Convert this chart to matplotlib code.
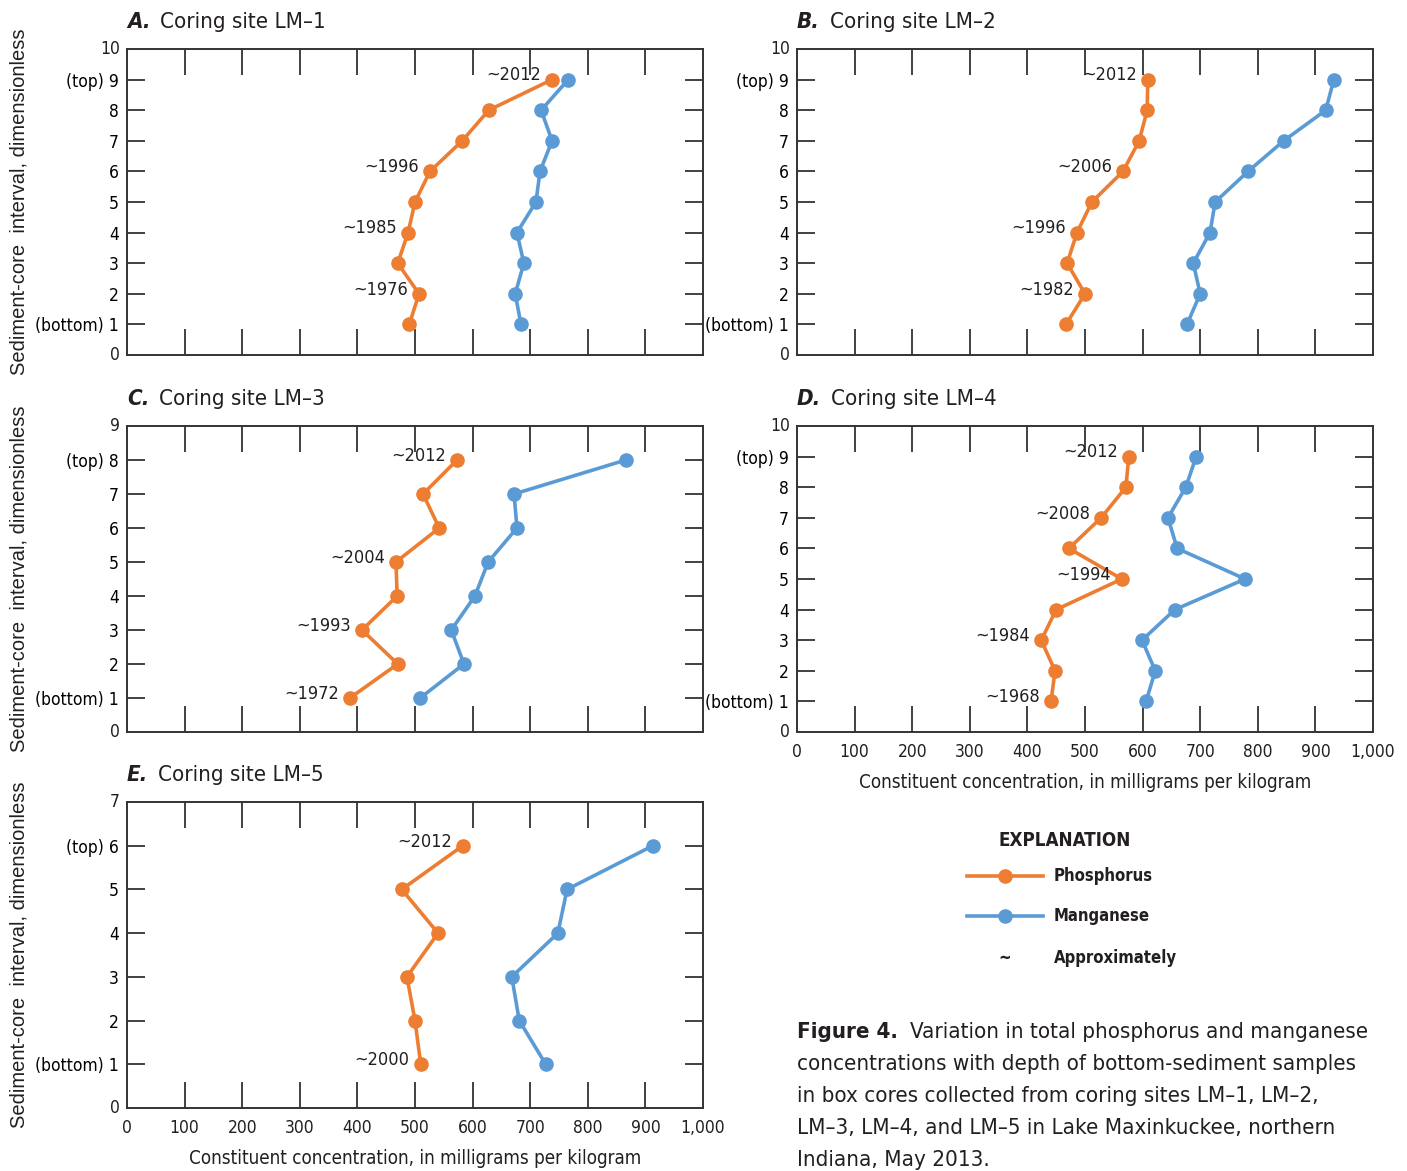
import matplotlib.pyplot as plt

# ==========================================
# DATA
# ==========================================

interval_9 = [1, 2, 3, 4, 5, 6, 7, 8, 9]
interval_8 = [1, 2, 3, 4, 5, 6, 7, 8]
interval_6 = [1, 2, 3, 4, 5, 6]

lm1_phos = [490, 507, 470, 488, 500, 526, 582, 628, 738]
lm1_mang = [684, 674, 689, 677, 710, 717, 738, 719, 766]
lm1_dates = {9: "~2012", 6: "~1996", 4: "~1985", 2: "~1976"}

lm2_phos = [467, 500, 469, 486, 512, 566, 594, 608, 609]
lm2_mang = [677, 700, 688, 717, 726, 783, 845, 918, 932]
lm2_dates = {9: "~2012", 6: "~2006", 4: "~1996", 2: "~1982"}

lm3_phos = [387, 470, 408, 469, 467, 542, 514, 573]
lm3_mang = [509, 585, 563, 604, 627, 677, 672, 866]
lm3_dates = {8: "~2012", 5: "~2004", 3: "~1993", 1: "~1972"}

lm4_phos = [441, 448, 424, 450, 564, 472, 528, 571, 576]
lm4_mang = [606, 622, 599, 656, 778, 660, 644, 675, 693]
lm4_dates = {9: "~2012", 7: "~2008", 5: "~1994", 3: "~1984", 1: "~1968"}

lm5_phos = [510, 500, 486, 540, 477, 583]
lm5_mang = [727, 681, 668, 748, 764, 913]
lm5_dates = {6: "~2012", 1: "~2000"}

x_ticks = [0, 100, 200, 300, 400, 500, 600, 700, 800, 900, 1000]
x_tick_labels = ["0", "100", "200", "300", "400", "500", "600", "700", "800", "900", "1,000"]

# ==========================================
# STYLE
# ==========================================

ORANGE = "#ED7D31"
BLUE = "#5B9BD5"
DARK = "#231F20"

plt.rcParams["font.family"] = ["DejaVu Sans"]
plt.rcParams["font.stretch"] = "condensed"
plt.rcParams["text.color"] = DARK

fig = plt.figure(figsize=(14.07, 11.71), dpi=100)

W, H = 1407, 1171


def make_axes(left, top, right, bottom):
    return fig.add_axes([left / W, 1 - bottom / H, (right - left) / W, (bottom - top) / H])


def draw_panel(ax, letter, site, intervals, phos, mang, dates, ymax, show_x, show_ylabel):

    ax.plot(phos, intervals, color=ORANGE, lw=2.6, marker="o", ms=9.5, zorder=3)
    ax.plot(mang, intervals, color=BLUE, lw=2.6, marker="o", ms=9.5, zorder=3)

    for yv, lab in dates.items():
        xv = phos[intervals.index(yv)]
        ax.annotate(lab, xy=(xv, yv), xytext=(-8, 3), textcoords="offset points",
                    ha="right", va="center", fontsize=13, color=DARK)

    ax.set_xlim(0, 1000)
    ax.set_ylim(0, ymax)

    ax.set_xticks(x_ticks[1:-1])
    ax.set_yticks(list(range(1, ymax)))

    ylabels = [str(v) for v in range(1, ymax)]
    ylabels[0] = "(bottom) 1"
    ylabels[-1] = "(top) " + str(ymax - 1)
    ax.set_yticklabels(ylabels, fontsize=12.5)

    # end labels 0 and ymax without ticks
    ax.text(-0.012, 0, "0", transform=ax.get_yaxis_transform(), ha="right", va="center", fontsize=12.5)
    ax.text(-0.012, ymax, str(ymax), transform=ax.get_yaxis_transform(), ha="right", va="center", fontsize=12.5)

    ax.tick_params(axis="x", direction="in", length=19, width=1.3, top=True, bottom=True,
                   color="#333333", labelbottom=False)
    ax.tick_params(axis="y", direction="in", length=13, width=1.3, left=True, right=True,
                   color="#333333", pad=6)

    for s in ax.spines.values():
        s.set_linewidth(1.4)
        s.set_color("#333333")

    if show_x:
        for xv, lab in zip(x_ticks, x_tick_labels):
            ax.text(xv, -0.035, lab, transform=ax.get_xaxis_transform(), ha="center", va="top", fontsize=12.5)
        ax.text(0.5, -0.135, "Constituent concentration, in milligrams per kilogram",
                transform=ax.transAxes, ha="center", va="top", fontsize=13.5)

    if show_ylabel:
        ax.text(-0.187, 0.5, "Sediment-core  interval, dimensionless", transform=ax.transAxes,
                rotation=90, ha="center", va="center", fontsize=14.5,
                family=["Liberation Sans", "DejaVu Sans"], stretch="normal")

    t = ax.text(0.0, 1.055, letter, transform=ax.transAxes, ha="left", va="bottom",
                fontsize=16, fontweight="bold", fontstyle="italic")
    ax.annotate(site, xy=(1, 0), xycoords=t, xytext=(7, 0), textcoords="offset points",
                ha="left", va="bottom", fontsize=16)


ax_a = make_axes(127, 49, 703, 355)
draw_panel(ax_a, "A.", "Coring site LM\u20131", interval_9, lm1_phos, lm1_mang, lm1_dates, 10, False, True)

ax_b = make_axes(797, 49, 1373, 355)
draw_panel(ax_b, "B.", "Coring site LM\u20132", interval_9, lm2_phos, lm2_mang, lm2_dates, 10, False, False)

ax_c = make_axes(127, 426, 703, 732)
draw_panel(ax_c, "C.", "Coring site LM\u20133", interval_8, lm3_phos, lm3_mang, lm3_dates, 9, False, True)

ax_d = make_axes(797, 426, 1373, 732)
draw_panel(ax_d, "D.", "Coring site LM\u20134", interval_9, lm4_phos, lm4_mang, lm4_dates, 10, True, False)

ax_e = make_axes(127, 802, 703, 1108)
draw_panel(ax_e, "E.", "Coring site LM\u20135", interval_6, lm5_phos, lm5_mang, lm5_dates, 7, True, True)

# ==========================================
# EXPLANATION
# ==========================================

fig.text(1065 / W, 1 - 841 / H, "EXPLANATION", ha="center", va="center", fontsize=13.5, fontweight="bold")

for yy, col, lab in [(876, ORANGE, "Phosphorus"), (916, BLUE, "Manganese")]:
    fig.add_artist(plt.Line2D([967 / W, 1043 / W], [1 - yy / H, 1 - yy / H], color=col, lw=2.6,
                              transform=fig.transFigure))
    fig.add_artist(plt.Line2D([1005 / W], [1 - yy / H], color=col, marker="o", ms=9.5,
                              transform=fig.transFigure))
    fig.text(1054 / W, 1 - yy / H, lab, ha="left", va="center", fontsize=12, fontweight="bold")

fig.text(1005 / W, 1 - 958 / H, "~", ha="center", va="center", fontsize=12, fontweight="bold")
fig.text(1054 / W, 1 - 958 / H, "Approximately", ha="left", va="center", fontsize=12, fontweight="bold")

# ==========================================
# CAPTION
# ==========================================

fig.text(797 / W, 1 - 1032 / H, "Figure 4.", ha="left", va="center", fontsize=16, fontweight="bold")
fig.text(910 / W, 1 - 1032 / H, "Variation in total phosphorus and manganese",
         ha="left", va="center", fontsize=16)
caption_rest = [
    "concentrations with depth of bottom-sediment samples",
    "in box cores collected from coring sites LM\u20131, LM\u20132,",
    "LM\u20133, LM\u20134, and LM\u20135 in Lake Maxinkuckee, northern",
    "Indiana, May 2013.",
]
for i, line in enumerate(caption_rest):
    fig.text(797 / W, 1 - (1064 + 32 * i) / H, line, ha="left", va="center", fontsize=16)

plt.savefig("out.png", dpi=100)
